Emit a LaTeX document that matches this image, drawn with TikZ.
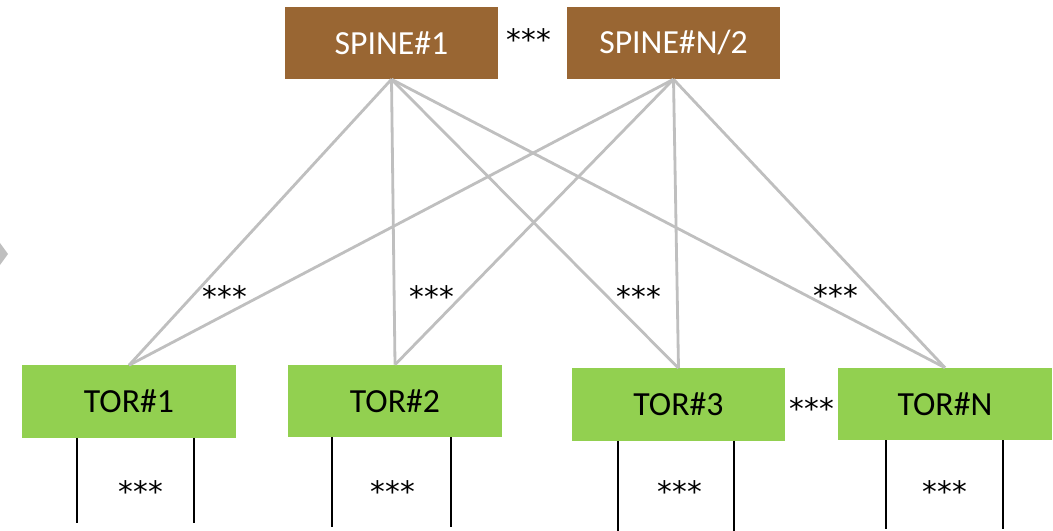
\documentclass[tikz,border=0pt]{standalone}
\usepackage{fontspec}
\setmainfont{Carlito}
\newfontfamily\starfont{DejaVu Sans}
\usepackage{color}
\definecolor{myspinebrown}{RGB}{153,102,51}
\definecolor{mytorgreen}{RGB}{146,208,80}
\definecolor{mylinkgray}{RGB}{191,191,191}
\newcommand{\widthswitch}{5.33cm}
\newcommand{\heightswitch}{1.8cm}
\tikzset{
    switch/.style={rectangle, minimum width=\widthswitch, minimum height=\heightswitch, inner sep=0pt, font=\fontsize{24}{28}\selectfont},
    spine/.style={switch, fill=myspinebrown, text=white},
    tor/.style={switch, fill=mytorgreen, text=black},
    stars/.style={inner sep=0pt, font=\starfont\fontsize{21}{25}\selectfont},
    link/.style={draw=mylinkgray, line width=2pt},
    hostlink/.style={draw=black, line width=2pt}
}
\begin{document}
\begin{tikzpicture}[x=0.025cm, y=-0.025cm]
            \useasboundingbox (0,0) rectangle (1053,531);
            \fill[mylinkgray] (0,243) -- (8,254) -- (0,265) -- cycle;

            \node[spine] (spine1) at (391.5,43) {SPINE\#1};
            \node[spine] (spineN) at (673.5,43) {SPINE\#N/2};
            \node[stars] (spinedots) at (529,40) {***};

            \node[tor] (tor1) at (129,401.5) {TOR\#1};
            \node[tor] (tor2) at (395,401) {TOR\#2};
            \node[tor] (tor3) at (678.5,404.5) {TOR\#3};
            \node[tor] (torN) at (945,404) {TOR\#N};
            \node[stars] (tordots) at (812,409) {***};

            \foreach \s in {spine1, spineN}
                \foreach \t in {tor1, tor2, tor3, torN}
                    \draw[link] (\s.south) -- (\t.north);

            \node[stars] (linkdots1) at (225,297) {***};
            \node[stars] (linkdots2) at (432,297) {***};
            \node[stars] (linkdots3) at (639,297) {***};
            \node[stars] (linkdots4) at (836,296) {***};

            % server links below each tor
            \foreach \t/\xa/\xb/\yb/\xs in {tor1/77/194/523/141, tor2/332/451/527/393, tor3/618/734/531/680, torN/886/1003/529/945} {
                \coordinate (\t-a) at (\xa,\yb);
                \coordinate (\t-b) at (\xb,\yb);
                \draw[hostlink] (\t.south -| \t-a) -- (\t-a);
                \draw[hostlink] (\t.south -| \t-b) -- (\t-b);
                \node[stars] (\t-dots) at (\xs,492) {***};
            }
        \end{tikzpicture}
\end{document}
